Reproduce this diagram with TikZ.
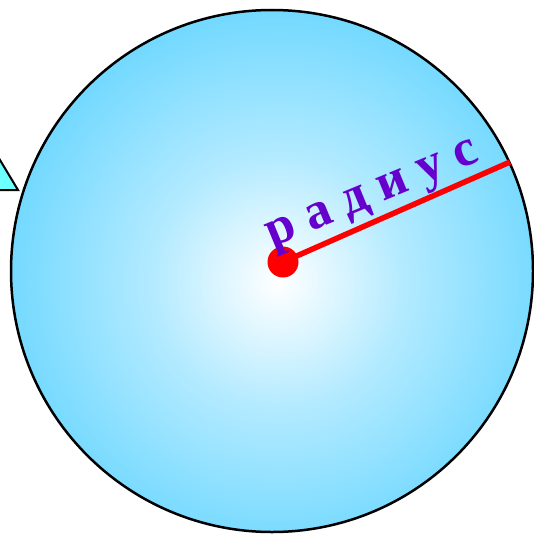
\documentclass[tikz,border=0pt]{standalone}
\usepackage{fontspec}
\setmainfont{Liberation Serif}
\definecolor{ballouter}{RGB}{112,216,255}
\definecolor{ballmid}{RGB}{178,234,255}
\definecolor{txtpurple}{RGB}{102,0,204}
\definecolor{tricyan}{RGB}{110,255,255}
\pgfdeclareradialshading{ballshade}{\pgfpoint{0bp}{0bp}}{color(0bp)=(white); color(11bp)=(ballmid); color(24bp)=(ballouter); color(50bp)=(ballouter)}
\tikzset{
  outline/.style={draw=black, line width=2.5pt},
  radiusline/.style={draw=red, line width=5.5pt},
  centerdot/.style={circle, fill=red, minimum size=31pt, inner sep=0pt},
  labeltext/.style={text=txtpurple, font=\bfseries\fontsize{52}{52}\selectfont}
}
\begin{document}
\begin{tikzpicture}[x=1pt,y=-1pt]
\useasboundingbox (0,0) rectangle (534,535);
% triangle at the left edge
\draw[outline, line width=2pt, fill=tricyan] (-12,140) -- (18,190) -- (-40,190) -- cycle;
% ball
\begin{scope}
  \clip (272,271) circle (261);
  \shade[shading=ballshade] (278,282) circle (290);
\end{scope}
\draw[outline] (272,271) circle (261);
% radius
\node[centerdot] (c) at (283,262) {};
\coordinate (e) at (510,162);
\draw[radiusline] (c.center) -- (e);
\node[labeltext, rotate=22.5] (lbl) at (374,198) {р а д и у с};
\end{tikzpicture}
\end{document}
